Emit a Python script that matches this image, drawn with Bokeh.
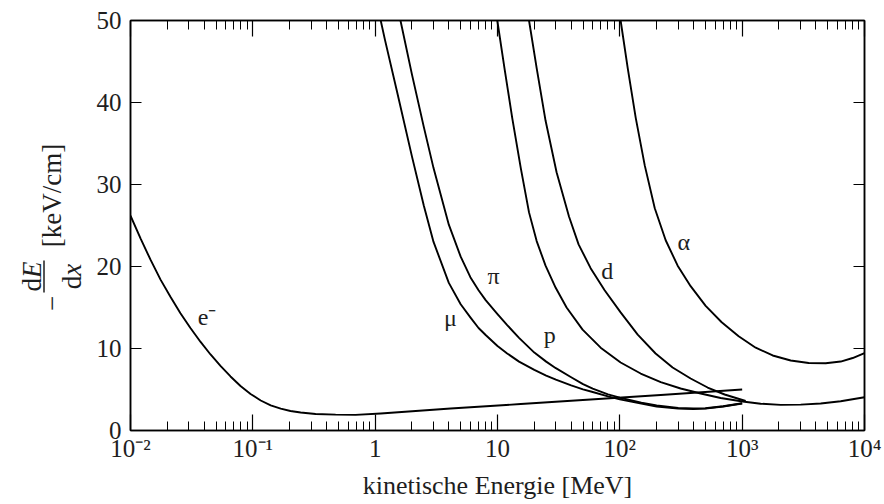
import math
from bokeh.plotting import figure
from bokeh.layouts import row
from bokeh.models import LogAxis, LinearAxis, Label, FixedTicker
from bokeh.core.properties import value
from bokeh.embed import file_html
from bokeh.resources import INLINE

# ---- data ----
E_e = [0.01, 0.0121, 0.0146, 0.0176, 0.0212, 0.0256, 0.0309, 0.0374, 0.0451, 0.0544, 0.0657,
       0.0793, 0.0958, 0.116, 0.140, 0.169, 0.203, 0.246, 0.326, 0.475, 0.691, 1.11, 4.14,
       15.5, 57.7, 216, 1000]
dEdx_e = [26.2, 23.4, 20.8, 18.4, 16.3, 14.3, 12.5, 10.8, 9.27, 7.87, 6.59, 5.43, 4.45, 3.66,
          3.07, 2.66, 2.38, 2.20, 2.02, 1.93, 1.90, 2.07, 2.68, 3.23, 3.78, 4.33, 5.0]

E_mu = [1.11, 1.2, 1.5, 2, 2.5, 3, 4, 5, 6, 7, 8, 10, 12, 15, 20, 25, 30, 40, 50, 60, 80, 100,
        150, 200, 300, 400, 500, 700, 1000]
dEdx_mu = [50, 47.7, 41.5, 33.4, 27.4, 23.0, 18.0, 15.4, 13.8, 12.5, 11.65, 10.3, 9.4, 8.4, 7.4,
           6.7, 6.2, 5.5, 5.02, 4.70, 4.17, 3.8, 3.27, 2.93, 2.67, 2.62, 2.67, 2.93, 3.3]

E_pi = [1.61, 2, 2.5, 3, 4, 5, 6, 7, 8, 10, 12, 15, 20, 25, 30, 40, 50, 60, 80, 100, 150, 200,
        300, 400, 500, 700, 1000]
dEdx_pi = [50, 43.4, 37.0, 32.0, 25.1, 21.2, 18.7, 17.1, 15.9, 14.2, 12.85, 11.3, 9.5, 8.4, 7.6,
           6.5, 5.65, 5.1, 4.4, 4.0, 3.4, 3.05, 2.75, 2.7, 2.72, 2.95, 3.32]

E_p = [9.96, 11.4, 13.2, 15.5, 18.1, 20.9, 24.7, 29.9, 36.7, 49.6, 69.7, 101.5, 148, 216, 314,
       458, 667, 1009, 1417, 2064, 3008, 4384, 6389, 10000]
dEdx_p = [50, 44.2, 38.1, 32.0, 26.6, 23.1, 20.1, 17.4, 15.0, 12.3, 10.1, 8.29, 6.95, 5.91,
          5.12, 4.51, 3.96, 3.54, 3.27, 3.13, 3.15, 3.29, 3.56, 4.06]

E_d = [18.1, 20.9, 24.7, 30.4, 38.4, 46.0, 57.7, 75.1, 101.5, 140, 196, 270, 379, 522, 719, 1068]
dEdx_d = [50, 44.2, 37.8, 31.5, 26.1, 22.7, 19.8, 17.1, 14.4, 11.7, 9.39, 7.68, 6.34, 5.24,
          4.39, 3.60]

E_a = [101.5, 116, 135, 160, 193, 237, 297, 379, 503, 680, 936, 1290, 1776, 2493, 3498, 4816,
       6389, 8006, 10000]
dEdx_a = [50, 44.2, 38.1, 32.3, 27.1, 23.2, 20.1, 17.6, 15.2, 13.2, 11.5, 10.1, 9.15, 8.54, 8.23,
          8.20, 8.41, 8.84, 9.45]

curve_names = ["e\u207b", "\u03bc", "\u03c0", "p", "d", "\u03b1"]
name_E = [0.0423, 4.13, 9.3, 26.7, 79, 333]
name_dEdx = [13.8, 13.7, 18.9, 11.7, 19.5, 23.0]

x_ticks = [0.01, 0.1, 1, 10, 100, 1000, 10000]
x_tick_labels = ["10\u207b\u00b2", "10\u207b\u00b9", "1", "10", "10\u00b2", "10\u00b3", "10\u2074"]
y_ticks = [0, 10, 20, 30, 40, 50]

FONT = "Liberation Serif"
INK = "#1e1e1e"
LEFT_W = 92

# ---------------- main plot ----------------
p = figure(width=884 - LEFT_W, height=504, x_axis_type="log", x_range=(1e-2, 1e4),
           y_range=(0, 50), output_backend="svg", toolbar_location=None,
           min_border_left=130 - LEFT_W, min_border_right=20, min_border_top=20,
           min_border_bottom=74)
p.background_fill_color = "white"
p.border_fill_color = "white"
p.outline_line_color = "black"
p.outline_line_width = 1.5
p.xgrid.visible = False
p.ygrid.visible = False

minor = [m * 10.0 ** k for k in range(-2, 4) for m in range(2, 10)]
xt = FixedTicker(ticks=x_ticks, minor_ticks=minor)
yt = FixedTicker(ticks=y_ticks, minor_ticks=[])


def style_common(ax, labels):
    ax.axis_line_color = "black"
    ax.axis_line_width = 1.5
    ax.major_tick_out = 0
    ax.minor_tick_out = 0
    ax.major_tick_line_color = "black"
    ax.minor_tick_line_color = "black"
    ax.major_tick_line_width = 1.2
    ax.minor_tick_line_width = 1.0
    ax.major_label_text_font = FONT
    if labels:
        ax.major_label_text_font_size = "25px"
        ax.major_label_text_color = INK
    else:
        ax.major_label_text_font_size = "10px"
        ax.major_label_text_color = None
        ax.major_label_standoff = 0


def style_x(ax, labels=True):
    ax.ticker = xt
    ax.major_tick_in = 16
    ax.minor_tick_in = 9
    style_common(ax, labels)
    if labels:
        ax.major_label_overrides = {t: l for t, l in zip(x_ticks, x_tick_labels)}
        ax.major_label_standoff = 4


def style_y(ax, labels=True):
    ax.ticker = yt
    ax.major_tick_in = 11
    ax.minor_tick_in = 0
    style_common(ax, labels)
    if labels:
        ax.major_label_standoff = 9


style_x(p.xaxis[0])
style_y(p.yaxis[0])
p.xaxis[0].axis_label = "kinetische Energie [MeV]"
p.xaxis[0].axis_label_text_font = FONT
p.xaxis[0].axis_label_text_font_style = "normal"
p.xaxis[0].axis_label_text_font_size = "26px"
p.xaxis[0].axis_label_text_color = INK
p.xaxis[0].axis_label_standoff = 6

top = LogAxis()
style_x(top, labels=False)
p.add_layout(top, "above")
right = LinearAxis()
style_y(right, labels=False)
p.add_layout(right, "right")

for xs, ys in [(E_e, dEdx_e), (E_mu, dEdx_mu), (E_pi, dEdx_pi), (E_p, dEdx_p), (E_d, dEdx_d),
               (E_a, dEdx_a)]:
    p.line(xs, ys, line_color="black", line_width=1.9, line_join="round")

for t, x, y in zip(curve_names, name_E, name_dEdx):
    p.add_layout(Label(x=x, y=y, text=t, text_font=FONT, text_font_size="24px",
                       text_align="center", text_baseline="middle", text_color=INK))

# ---------------- y-axis title panel: -dE/dx [keV/cm] ----------------
# the row aligns this panel's frame with the main frame (page rows 20..430),
# so the y range is chosen to make panel units equal to page pixels (y = 504 - row)
lf = figure(width=LEFT_W, height=504, x_range=(0, LEFT_W), y_range=(74, 484),
            output_backend="svg", toolbar_location=None, x_axis_location=None,
            y_axis_location=None, min_border=0)
lf.outline_line_color = None
lf.background_fill_color = "white"
lf.border_fill_color = "white"
lf.xgrid.visible = False
lf.ygrid.visible = False

ang = math.pi / 2
parts = [
    # text, baseline x, centre y (panel units), style
    ("[keV/cm]", 51, 309, "normal"),
    ("\u2212", 51, 201, "normal"),
    ("d", 31, 219.75, "normal"),
    ("E", 31, 234.75, "italic"),
    ("d", 71, 222, "normal"),
    ("x", 71, 234.75, "italic"),
]
for t, x, y, st in parts:
    lf.text(x=[x], y=[y], text=[t], angle=ang, text_font=value(FONT), text_font_size="27px",
            text_font_style=st, text_align="center", text_baseline="alphabetic",
            text_color=INK)
lf.segment(x0=[43.5], y0=[212], x1=[43.5], y1=[244], line_color=INK, line_width=1.5)

open("out.html", "w").write(file_html(row(lf, p), INLINE))
